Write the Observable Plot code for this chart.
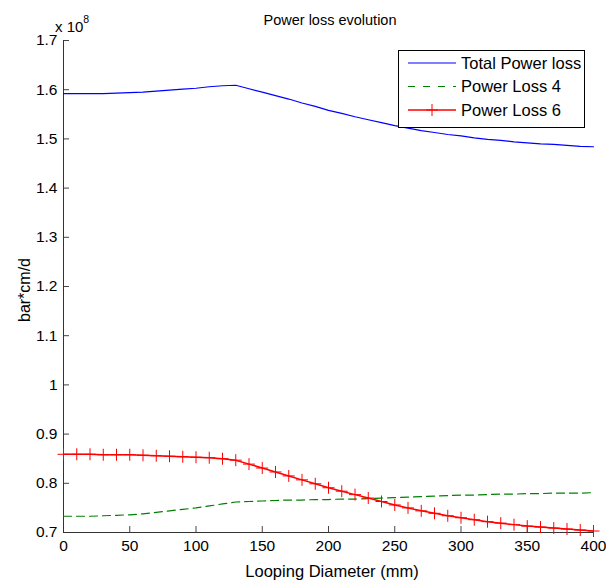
<!DOCTYPE html>
<html><head><meta charset="utf-8">
<script src="https://cdn.jsdelivr.net/npm/d3@7"></script>
<script src="https://cdn.jsdelivr.net/npm/@observablehq/plot@0.6"></script>
<style>
body{margin:0;background:#fff;font-family:"Liberation Sans",Arial,sans-serif;}
#chart{position:relative;width:606px;height:580px;}
</style></head>
<body><div id="chart"></div>
<script>
const diameters = [0,10,20,30,40,50,60,70,80,90,100,110,120,130,140,150,160,170,180,190,200,210,220,230,240,250,260,270,280,290,300,310,320,330,340,350,360,370,380,390,400];
const totalLoss = [1.592,1.592,1.592,1.592,1.593,1.594,1.595,1.597,1.599,1.601,1.603,1.606,1.608,1.609,1.602,1.595,1.588,1.581,1.573,1.566,1.558,1.552,1.545,1.539,1.533,1.527,1.522,1.517,1.513,1.509,1.506,1.502,1.499,1.497,1.494,1.492,1.490,1.489,1.487,1.485,1.484];
const loss4 = [0.733,0.733,0.733,0.734,0.735,0.736,0.738,0.741,0.744,0.747,0.750,0.754,0.758,0.762,0.763,0.764,0.765,0.766,0.766,0.767,0.767,0.768,0.768,0.769,0.770,0.771,0.772,0.773,0.774,0.775,0.776,0.776,0.777,0.778,0.778,0.779,0.779,0.780,0.780,0.780,0.781];
const loss6 = [0.859,0.859,0.859,0.858,0.858,0.858,0.857,0.856,0.855,0.854,0.853,0.852,0.850,0.847,0.839,0.831,0.823,0.815,0.807,0.799,0.791,0.784,0.777,0.770,0.763,0.756,0.750,0.744,0.739,0.734,0.730,0.726,0.722,0.719,0.716,0.713,0.711,0.709,0.707,0.705,0.703];
const seriesNames = ["Total Power loss","Power Loss 4","Power Loss 6"];
const seriesColors = ["#0000ff","#008000","#ff0000"];
const xTicks = [0,50,100,150,200,250,300,350,400];
const yTicks = [0.7,0.8,0.9,1.0,1.1,1.2,1.3,1.4,1.5,1.6,1.7];
const yTickLabels = ["0.7","0.8","0.9","1","1.1","1.2","1.3","1.4","1.5","1.6","1.7"];
const titleText = "Power loss evolution";
const xLabel = "Looping Diameter (mm)";
const yLabel = "bar*cm/d";

const rows = diameters.map((d,i)=>({d, total: totalLoss[i], l4: loss4[i], l6: loss6[i]}));

const plusSymbol = {
  draw(context, size) {
    const r = Math.sqrt(size / Math.PI);
    context.moveTo(0, -r); context.lineTo(0, r);
    context.moveTo(-r, 0); context.lineTo(r, 0);
  }
};

const chart = Plot.plot({
  width: 606, height: 580,
  marginLeft: 63, marginRight: 13, marginTop: 40, marginBottom: 48,
  style: {fontFamily: "'Liberation Sans', Arial, sans-serif", fontSize: "15px", color: "#000", background: "#fff"},
  x: {domain: [0, 400], ticks: xTicks},
  y: {domain: [0.7, 1.7], ticks: yTicks},
  marks: [
    Plot.axisX({ticks: xTicks, tickSize: -6, tickPadding: 13, tickFormat: d => String(d), label: null, stroke: "#444", fontSize: 15.5}),
    Plot.axisY({ticks: yTicks, tickSize: -6, tickPadding: 12, tickFormat: d => yTickLabels[yTicks.findIndex(t => Math.abs(t-d) < 1e-9)], label: null, stroke: "#444", fontSize: 15.5}),
    Plot.ruleX([0], {stroke: "#333"}),
    Plot.ruleY([0.7], {stroke: "#333"}),
    Plot.line(rows, {x: "d", y: "total", stroke: seriesColors[0], strokeWidth: 1.2}),
    Plot.line(rows, {x: "d", y: "l4", stroke: seriesColors[1], strokeWidth: 1.2, strokeDasharray: "8,5"}),
    Plot.line(rows, {x: "d", y: "l6", stroke: seriesColors[2], strokeWidth: 1.5}),
    Plot.dot(rows, {x: "d", y: "l6", symbol: plusSymbol, r: 6, stroke: seriesColors[2], strokeWidth: 1, fill: "none"})
  ]
});
document.getElementById("chart").appendChild(chart);

const svg = d3.select(chart);
const font = "'Liberation Sans', Arial, sans-serif";
svg.append("text").attr("x", 330).attr("y", 25).attr("text-anchor","middle")
  .style("font-family", font).style("font-size","14.5px").text(titleText);
const exp = svg.append("text").attr("x", 55).attr("y", 32).attr("text-anchor","start")
  .style("font-family", font).style("font-size","15px");
exp.append("tspan").text("x 10");
exp.append("tspan").attr("dy", -9).style("font-size","10.5px").text("8");
svg.append("text").attr("x", 332).attr("y", 577).attr("text-anchor","middle")
  .style("font-family", font).style("font-size","16.5px").text(xLabel);
svg.append("text").attr("transform","translate(30,290) rotate(-90)").attr("text-anchor","middle")
  .style("font-family", font).style("font-size","16px").text(yLabel);

// legend
const lg = svg.append("g");
lg.append("rect").attr("x", 398.5).attr("y", 50.5).attr("width", 186).attr("height", 77)
  .attr("fill","#fff").attr("stroke","#000").attr("stroke-width",1);
seriesNames.forEach((name, i) => {
  const y = 63 + i*23.5;
  const line = lg.append("line").attr("x1", 408).attr("x2", 456).attr("y1", y).attr("y2", y)
    .attr("stroke", seriesColors[i]).attr("stroke-width", i === 2 ? 1.5 : 1.2);
  if (i === 1) line.attr("stroke-dasharray","7,8");
  if (i === 2) {
    lg.append("path").attr("d", `M432,${y-6}V${y+6}M426,${y}H438`).attr("stroke", seriesColors[i]).attr("fill","none");
  }
  lg.append("text").attr("x", 461).attr("y", y + 5.5).attr("text-anchor","start")
    .style("font-family", font).style("font-size","16.5px").text(name);
});
</script></body></html>
